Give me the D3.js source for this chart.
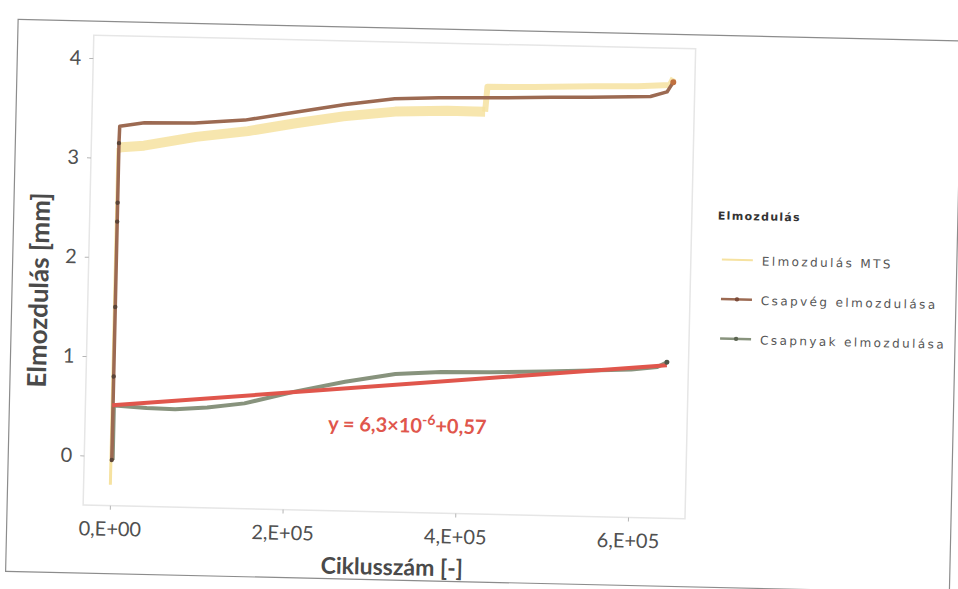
<!DOCTYPE html>
<html>
<head>
<meta charset="utf-8">
<script src="https://cdn.jsdelivr.net/npm/d3@7"></script>
<style>
  body { margin: 0; background: #fff; }
  svg { display: block; }
</style>
</head>
<body>
<svg id="chart" width="958" height="589"></svg>
<script>
(function(){

// tick values and labels
var xTicks = [0, 200000, 400000, 600000];
var xTickLabels = ["0,E+00", "2,E+05", "4,E+05", "6,E+05"];
var yTicks = [0, 1, 2, 3, 4];

// legend
var legendTitle = "Elmozdulás";
var seriesNames = ["Elmozdulás MTS", "Csapvég elmozdulása", "Csapnyak elmozdulása"];

// Elmozdulás MTS (cycles, mm)
var mtsX = [0, 0, 4000, 30000, 90000, 150000, 205000, 260000, 320000, 380000, 424000, 426000, 480000, 550000, 600000, 637000, 641000];
var mtsY = [-0.29, 3.10, 3.11, 3.13, 3.23, 3.30, 3.39, 3.47, 3.53, 3.55, 3.55, 3.80, 3.81, 3.83, 3.84, 3.86, 3.93];

// Csapvég elmozdulása
var cvX = [1000, 1000, 1400, 30000, 88000, 146000, 204000, 262000, 319000, 370000, 429000, 500000, 545000, 615000, 634000, 641000];
var cvY = [-0.04, 3.15, 3.32, 3.36, 3.37, 3.41, 3.50, 3.59, 3.66, 3.68, 3.69, 3.71, 3.72, 3.74, 3.79, 3.89];
var cvDotY = [3.15, 2.55, 2.36, 1.5, 0.8, -0.04];

// Csapnyak elmozdulása
var cnX = [2000, 2000, 3000, 40000, 73000, 110000, 153000, 211000, 269000, 327000, 380000, 436000, 500000, 552000, 600000, 630000, 641000];
var cnY = [-0.04, 0.50, 0.51, 0.49, 0.485, 0.51, 0.56, 0.69, 0.80, 0.89, 0.92, 0.93, 0.95, 0.97, 0.99, 1.02, 1.07];

// linear trend (red)
var trendX = [0, 641000];
var trendY = [0.51, 1.04];
var trendLabel = ["y = 6,3×10", "-6", "+0,57"];

var panel = {left: 88, right: 690, top: 44, bottom: 514};
var colors = ["#f6e2a0", "#9c6a52", "#88937d"];

var svg = d3.select("#chart");
// the scanned page sits slightly tilted
var g = svg.append("g").attr("transform", "rotate(1.3,479,295)");

g.append("rect")
  .attr("x", 12).attr("y", 30)
  .attr("width", 944).attr("height", 552)
  .attr("fill", "none")
  .attr("stroke", "#8c8c8c")
  .attr("stroke-width", 1.2);

var x = d3.scaleLinear().domain([-31000, 666000]).range([panel.left, panel.right]);
var y = d3.scaleLinear().domain([-0.5, 4.23]).range([panel.bottom, panel.top]);

g.append("rect")
  .attr("x", panel.left).attr("y", panel.top)
  .attr("width", panel.right - panel.left)
  .attr("height", panel.bottom - panel.top)
  .attr("fill", "#fff")
  .attr("stroke", "#e6e6e6")
  .attr("stroke-width", 1.5);

var xAxis = d3.axisBottom(x)
  .tickValues(xTicks)
  .tickFormat(function(d, i){ return xTickLabels[i]; })
  .tickSize(4).tickPadding(12);
var yAxis = d3.axisLeft(y)
  .tickValues(yTicks)
  .tickFormat(d3.format("d"))
  .tickSize(4).tickPadding(8);

var xas = g.append("g")
  .attr("transform", "translate(0," + panel.bottom + ")")
  .call(xAxis);
var yas = g.append("g")
  .attr("transform", "translate(" + panel.left + ",0)")
  .call(yAxis);

[xas, yas].forEach(function(a){
  a.select(".domain").remove();
  a.selectAll(".tick line").attr("stroke", "#b5b5b5");
  a.selectAll(".tick text")
    .attr("fill", "#505050")
    .style("font-family", "Lato, 'Open Sans', sans-serif")
    .style("font-size", "20px");
});

// axis titles
g.append("text")
  .attr("x", 398).attr("y", 577)
  .attr("text-anchor", "middle")
  .attr("fill", "#4a4a4a")
  .style("font-family", "Lato, sans-serif")
  .style("font-weight", "bold")
  .style("font-size", "23px")
  .text("Ciklusszám [-]");

g.append("text")
  .attr("transform", "translate(48,300) rotate(-90)")
  .attr("text-anchor", "middle")
  .attr("fill", "#4a4a4a")
  .style("font-family", "Lato, sans-serif")
  .style("font-weight", "bold")
  .style("font-size", "26px")
  .text("Elmozdulás [mm]");

function line(xs, ys) {
  return d3.line()
    .x(function(d){ return x(xs[d]); })
    .y(function(d){ return y(ys[d]); })(d3.range(xs.length));
}

// MTS: thin rise, wide pale band, then narrower band after the jump
g.append("path")
  .attr("d", line(mtsX.slice(0, 2), mtsY.slice(0, 2)))
  .attr("fill", "none")
  .attr("stroke", colors[0])
  .attr("stroke-width", 3);
g.append("path")
  .attr("d", line(mtsX.slice(1, 11), mtsY.slice(1, 11)))
  .attr("fill", "none")
  .attr("stroke", colors[0])
  .attr("stroke-width", 10)
  .attr("stroke-linejoin", "round")
  .attr("opacity", 0.85);
g.append("path")
  .attr("d", line(mtsX.slice(10), mtsY.slice(10)))
  .attr("fill", "none")
  .attr("stroke", colors[0])
  .attr("stroke-width", 6)
  .attr("stroke-linejoin", "round")
  .attr("opacity", 0.85);

// Csapnyak (green)
g.append("path")
  .attr("d", line(cnX, cnY))
  .attr("fill", "none")
  .attr("stroke", colors[2])
  .attr("stroke-width", 4)
  .attr("stroke-linejoin", "round");

// Csapvég (brown)
g.append("path")
  .attr("d", line(cvX, cvY))
  .attr("fill", "none")
  .attr("stroke", colors[1])
  .attr("stroke-width", 3.5)
  .attr("stroke-linejoin", "round");
g.selectAll("circle.cvdot")
  .data(cvDotY)
  .enter().append("circle")
  .attr("class", "cvdot")
  .attr("cx", x(cvX[0]))
  .attr("cy", function(d){ return y(d); })
  .attr("r", 2.2)
  .attr("fill", "#5a4438");

// trend line
g.append("path")
  .attr("d", line(trendX, trendY))
  .attr("fill", "none")
  .attr("stroke", "#e0564c")
  .attr("stroke-width", 4);

// end markers
g.append("circle")
  .attr("cx", x(cvX[cvX.length - 1])).attr("cy", y(cvY[cvY.length - 1]))
  .attr("r", 3).attr("fill", "#c0703f");
g.append("circle")
  .attr("cx", x(cnX[cnX.length - 1])).attr("cy", y(cnY[cnY.length - 1]))
  .attr("r", 2.5).attr("fill", "#4f5648");

var eq = g.append("text")
  .attr("x", 331).attr("y", 434)
  .attr("fill", "#e0564c")
  .style("font-family", "Lato, sans-serif")
  .style("font-weight", "bold")
  .style("font-size", "20px");
eq.append("tspan").text(trendLabel[0]);
eq.append("tspan").attr("dy", -8).style("font-size", "14px").text(trendLabel[1]);
eq.append("tspan").attr("dy", 8).text(trendLabel[2]);

// legend
var lg = g.append("g").attr("transform", "translate(716,0)");
lg.append("text")
  .attr("x", 0).attr("y", 214)
  .attr("fill", "#333")
  .style("font-family", "'DejaVu Sans', sans-serif")
  .style("font-weight", "bold")
  .style("font-size", "11px")
  .style("letter-spacing", "1.3px")
  .text(legendTitle);

var items = lg.selectAll("g.item")
  .data(seriesNames)
  .enter().append("g")
  .attr("class", "item")
  .attr("transform", function(d, i){ return "translate(0," + (254 + i * 39.5) + ")"; });
items.append("line")
  .attr("x1", 5).attr("x2", 36)
  .attr("stroke", function(d, i){ return colors[i]; })
  .attr("stroke-width", function(d, i){ return i === 0 ? 2 : 2.5; });
items.filter(function(d, i){ return i > 0; })
  .append("circle")
  .attr("cx", 21).attr("r", 2.2)
  .attr("fill", function(d, i){ return i === 0 ? "#7a4a38" : "#5c6552"; });
items.append("text")
  .attr("x", 45).attr("y", 5)
  .attr("fill", "#555")
  .style("font-family", "'DejaVu Sans', sans-serif")
  .style("font-size", "12px")
  .style("letter-spacing", "2.4px")
  .text(function(d){ return d; });

})();
</script>
</body>
</html>
